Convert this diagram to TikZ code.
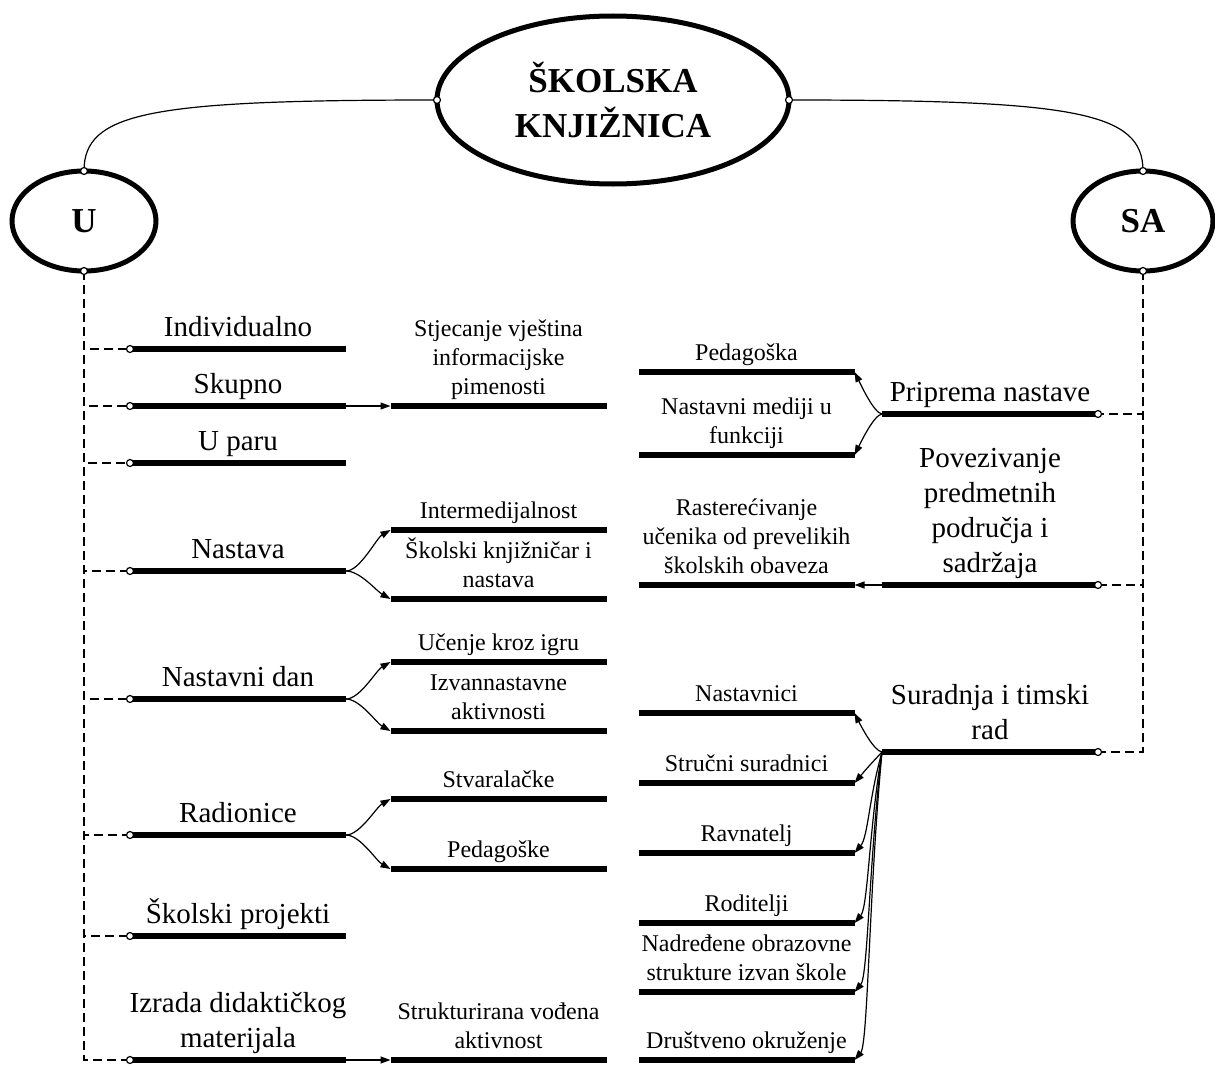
\documentclass[tikz,border=0pt]{standalone}
\usepackage{fontspec}
\setmainfont{Liberation Serif}
\usetikzlibrary{arrows.meta,shapes.geometric}
\newcommand\fsz[2]{\fontsize{#1}{#2}\selectfont}
\newcommand\zdp{\rule[-0.3em]{0pt}{0.3em}}
\begin{document}
\begin{tikzpicture}[x=1pt,y=-1pt,
  bar/.style={rectangle, fill=black, minimum width=216pt, minimum height=6pt, inner sep=0pt, outer sep=0pt},
  big/.style={anchor=south, inner sep=0pt, align=center, font=\rmfamily\fsz{29}{35}, execute at end node=\zdp},
  small/.style={big, font=\rmfamily\fsz{24}{29}},
  dline/.style={line width=1.8pt, dash pattern=on 9pt off 5pt},
  conn/.style={line width=1.2pt},
  arr/.style={conn, -{Triangle[length=10pt,width=7pt]}},
  dot/.style={circle, draw, fill=white, line width=1.2pt, minimum size=7pt, inner sep=0pt},
  hub/.style={ellipse, draw, line width=5pt, inner sep=0pt, outer sep=0pt, font=\rmfamily\fsz{35}{45}\bfseries, align=center}]
\useasboundingbox (0,0) rectangle (1215,1065);

% hubs
\node[hub, minimum width=352pt, minimum height=168pt] (K) at (613,100) {ŠKOLSKA\\KNJIŽNICA};
\node[hub, minimum width=144pt, minimum height=100pt] (U) at (84,221) {U};
\node[hub, minimum width=140pt, minimum height=100pt] (SA) at (1143,221) {SA};

% left column bars
\node[bar] (L1) at (238,349) {};
\node[bar] (L2) at (238,406) {};
\node[bar] (L3) at (238,463) {};
\node[bar] (L4) at (238,571) {};
\node[bar] (L5) at (238,699) {};
\node[bar] (L6) at (238,835) {};
\node[bar] (L7) at (238,936) {};
\node[bar] (L8) at (238,1060) {};
% middle-left bars
\node[bar] (M1) at (498.5,406) {};
\node[bar] (M2) at (498.5,530) {};
\node[bar] (M3) at (498.5,599) {};
\node[bar] (M4) at (498.5,662) {};
\node[bar] (M5) at (498.5,731) {};
\node[bar] (M6) at (498.5,799) {};
\node[bar] (M7) at (498.5,869) {};
\node[bar] (M8) at (498.5,1060) {};
% middle-right bars
\node[bar] (N1) at (746.5,372) {};
\node[bar] (N2) at (746.5,455) {};
\node[bar] (N3) at (746.5,585) {};
\node[bar] (N4) at (746.5,713) {};
\node[bar] (N5) at (746.5,783) {};
\node[bar] (N6) at (746.5,853) {};
\node[bar] (N7) at (746.5,923) {};
\node[bar] (N8) at (746.5,992) {};
\node[bar] (N9) at (746.5,1060) {};
% right column bars
\node[bar] (R1) at (990,414) {};
\node[bar] (R2) at (990,585) {};
\node[bar] (R3) at (990,752) {};

% labels
\node[big] (tL1) at ([yshift=1pt]L1.north) {Individualno};
\node[big] (tL2) at ([yshift=1pt]L2.north) {Skupno};
\node[big] (tL3) at ([yshift=1pt]L3.north) {U paru};
\node[big] (tL4) at ([yshift=1pt]L4.north) {Nastava};
\node[big] (tL5) at ([yshift=1pt]L5.north) {Nastavni dan};
\node[big] (tL6) at ([yshift=1pt]L6.north) {Radionice};
\node[big] (tL7) at ([yshift=1pt]L7.north) {Školski projekti};
\node[big] (tL8) at ([yshift=1pt]L8.north) {Izrada didaktičkog\\materijala};

\node[small] (tM1) at ([yshift=1pt]M1.north) {Stjecanje vještina\\informacijske\\pimenosti};
\node[small] (tM2) at ([yshift=1pt]M2.north) {Intermedijalnost};
\node[small] (tM3) at ([yshift=1pt]M3.north) {Školski knjižničar i\\nastava};
\node[small] (tM4) at ([yshift=1pt]M4.north) {Učenje kroz igru};
\node[small] (tM5) at ([yshift=1pt]M5.north) {Izvannastavne\\aktivnosti};
\node[small] (tM6) at ([yshift=1pt]M6.north) {Stvaralačke};
\node[small] (tM7) at ([yshift=1pt]M7.north) {Pedagoške};
\node[small] (tM8) at ([yshift=1pt]M8.north) {Strukturirana vođena\\aktivnost};

\node[small] (tN1) at ([yshift=1pt]N1.north) {Pedagoška};
\node[small] (tN2) at ([yshift=1pt]N2.north) {Nastavni mediji u\\funkciji};
\node[small] (tN3) at ([yshift=1pt]N3.north) {Rasterećivanje\\učenika od prevelikih\\školskih obaveza};
\node[small] (tN4) at ([yshift=1pt]N4.north) {Nastavnici};
\node[small] (tN5) at ([yshift=1pt]N5.north) {Stručni suradnici};
\node[small] (tN6) at ([yshift=1pt]N6.north) {Ravnatelj};
\node[small] (tN7) at ([yshift=1pt]N7.north) {Roditelji};
\node[small] (tN8) at ([yshift=1pt]N8.north) {Nadređene obrazovne\\strukture izvan škole};
\node[small] (tN9) at ([yshift=1pt]N9.north) {Društveno okruženje};

\node[big] (tR1) at ([yshift=1pt]R1.north) {Priprema nastave};
\node[big] (tR2) at ([yshift=1pt]R2.north) {Povezivanje\\predmetnih\\područja i\\sadržaja};
\node[big] (tR3) at ([yshift=1pt]R3.north) {Suradnja i timski\\rad};

% hub connectors
\draw[conn] (K.west) .. controls (150,100) and (84,112) .. (U.north);
\draw[conn] (K.east) .. controls (1076,100) and (1143,112) .. (SA.north);

% dashed connectors
\foreach \n in {L1,L2,L3,L4,L5,L6,L7,L8}
  \draw[dline] (U.south) |- (\n.west);
\foreach \n in {R1,R2,R3}
  \draw[dline] (SA.south) |- (\n.east);

% arrows
\draw[arr] (L2.east) -- (M1.west);
\draw[arr] (L8.east) -- (M8.west);
\draw[arr] (L4.east) .. controls +(14,0) and +(-14,8) .. (M2.west);
\draw[arr] (L4.east) .. controls +(14,0) and +(-14,-8) .. (M3.west);
\draw[arr] (L5.east) .. controls +(14,0) and +(-14,8) .. (M4.west);
\draw[arr] (L5.east) .. controls +(14,0) and +(-14,-8) .. (M5.west);
\draw[arr] (L6.east) .. controls +(14,0) and +(-14,8) .. (M6.west);
\draw[arr] (L6.east) .. controls +(14,0) and +(-14,-8) .. (M7.west);
\draw[arr] (R1.west) .. controls +(-8,-1) and +(7,14) .. (N1.east);
\draw[arr] (R1.west) .. controls +(-8,1) and +(7,-14) .. (N2.east);
\draw[arr] (R2.west) -- (N3.east);
\draw[arr] (R3.west) .. controls +(-8,-1) and +(7,14) .. (N4.east);
\foreach \n/\yy in {N5/783,N6/853,N7/923,N8/992,N9/1060}
  \draw[arr] (R3.west) .. controls (869,{752+0.45*(\yy-752)}) and (868,{\yy-16}) .. (\n.east);

% connection dots
\foreach \p [count=\i] in {K.west,K.east,U.north,U.south,SA.north,SA.south,
    L1.west,L2.west,L3.west,L4.west,L5.west,L6.west,L7.west,L8.west,
    R1.east,R2.east,R3.east}
  \node[dot] (dot\i) at (\p) {};
\end{tikzpicture}
\end{document}
